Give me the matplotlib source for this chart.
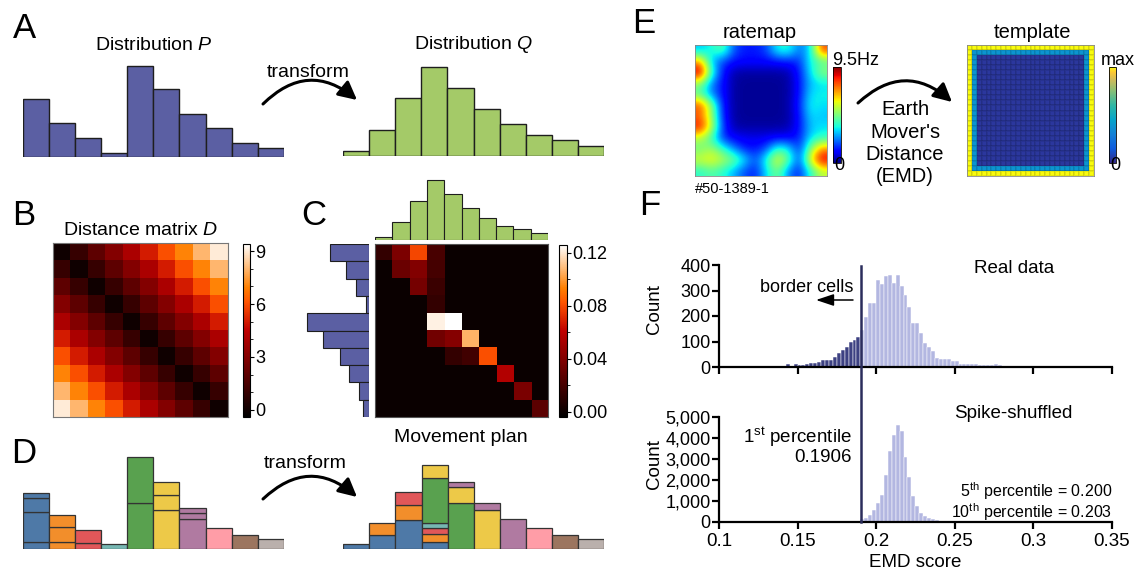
import numpy as np
import matplotlib
matplotlib.use('Agg')
import matplotlib.pyplot as plt
from matplotlib.patches import FancyArrowPatch
from matplotlib.colors import LinearSegmentedColormap
from matplotlib.ticker import FuncFormatter, FixedLocator
import matplotlib.transforms as mtransforms

plt.rcParams['font.family'] = ['Liberation Sans', 'DejaVu Sans']
plt.rcParams['mathtext.fontset'] = 'custom'
plt.rcParams['mathtext.rm'] = 'Liberation Sans'
plt.rcParams['mathtext.it'] = 'Liberation Sans:italic'

# ---------------- data ----------------
bins = np.arange(10)
P = [0.157, 0.092, 0.051, 0.011, 0.247, 0.184, 0.117, 0.079, 0.038, 0.024]
Q = [0.013, 0.070, 0.156, 0.239, 0.183, 0.126, 0.086, 0.056, 0.043, 0.027]

# transport plan: rows = source bin of P, columns = destination bin of Q
plan = [
    [0.0135, 0.0386, 0.0792, 0.0208, 0, 0, 0, 0, 0, 0],
    [0, 0.0324, 0.0405, 0.0197, 0, 0, 0, 0, 0, 0],
    [0, 0, 0.0359, 0.0162, 0, 0, 0, 0, 0, 0],
    [0, 0, 0, 0.0135, 0, 0, 0, 0, 0, 0],
    [0, 0, 0, 0.1224, 0.1262, 0, 0, 0, 0, 0],
    [0, 0, 0, 0.0351, 0.0414, 0.1062, 0, 0, 0, 0],
    [0, 0, 0, 0, 0.0135, 0.0181, 0.0811, 0, 0, 0],
    [0, 0, 0, 0, 0, 0, 0, 0.0568, 0, 0],
    [0, 0, 0, 0, 0, 0, 0, 0, 0.0378, 0],
    [0, 0, 0, 0, 0, 0, 0, 0, 0, 0.0270],
]
dist_ticks = [0, 3, 6, 9]
plan_ticks = [0.00, 0.04, 0.08, 0.12]
bin_colors = ['#4E79A7', '#F28E2B', '#E15759', '#76B7B2', '#59A14F',
              '#EDC948', '#B07AA1', '#FF9DA7', '#9C755F', '#BAB0AC']

# ratemap (Hz), 12 x 12 coarse grid, top row first
ratemap_hz = [
    [3.0, 3.6, 4.5, 2.0, 1.4, 1.4, 1.8, 3.6, 3.8, 2.2, 3.2, 8.0],
    [7.0, 3.0, 1.8, 1.3, 1.2, 1.2, 1.2, 1.3, 1.4, 1.6, 3.6, 4.2],
    [9.3, 4.0, 1.4, 0.4, 0.3, 0.3, 0.3, 0.3, 0.4, 1.4, 3.3, 5.0],
    [5.0, 2.4, 1.3, 0.3, 0.2, 0.2, 0.2, 0.2, 0.3, 1.3, 3.0, 3.3],
    [4.2, 2.4, 1.3, 0.3, 0.2, 0.2, 0.2, 0.2, 0.3, 1.3, 3.3, 3.5],
    [8.0, 5.0, 1.4, 0.3, 0.2, 0.2, 0.2, 0.2, 0.3, 1.5, 3.6, 3.3],
    [7.6, 5.2, 1.5, 0.3, 0.2, 0.2, 0.2, 0.2, 0.3, 1.3, 3.3, 3.0],
    [8.6, 5.7, 1.8, 0.4, 0.3, 0.3, 0.3, 0.3, 0.4, 1.3, 3.0, 3.3],
    [5.5, 4.0, 1.6, 1.1, 1.0, 0.9, 1.0, 1.1, 1.1, 1.4, 3.3, 3.8],
    [4.5, 5.2, 4.0, 2.5, 1.4, 1.3, 1.9, 4.0, 3.4, 1.5, 4.8, 7.2],
    [5.8, 6.2, 5.5, 4.8, 3.4, 1.9, 3.8, 6.2, 4.5, 1.7, 6.2, 9.0],
    [3.8, 4.3, 3.8, 2.9, 1.9, 1.4, 3.3, 4.8, 2.4, 1.4, 3.8, 5.5],
]
ratemap_max = 9.5
template_size = 26
template_profile = [1.0, 0.38, 0.04]   # outer ring, second ring, interior

bin_width = 0.0025
real_start = 0.1425
real_counts = [10, 5, 13, 8, 9, 13, 17, 16, 20, 26, 29, 26, 40, 55, 65, 78, 98, 107, 117,
               146, 195, 250, 250, 341, 325, 355, 361, 331, 361, 318, 283, 237, 172, 172,
               133, 94, 77, 61, 35, 33, 33, 33, 25, 25, 13, 13, 13, 13, 12, 9, 9, 8, 8,
               13, 6, 5, 3, 2]
shuf_start = 0.19
shuf_counts = [130, 200, 330, 560, 900, 1300, 2250, 3350, 4150, 4600, 4300, 3100, 2150,
               1250, 750, 420, 280, 190, 140, 90, 55, 35, 20, 12, 8]
threshold = 0.1906
emd_ticks = [0.1, 0.15, 0.2, 0.25, 0.3, 0.35]
real_yticks = [0, 100, 200, 300, 400]
shuf_yticks = [0, 1000, 2000, 3000, 4000, 5000]

# ---------------- figure helpers ----------------
W, H = 1140, 573
fig = plt.figure(figsize=(W / 100, H / 100), dpi=100)


def add_ax(x0, y0, x1, y1):
    return fig.add_axes([x0 / W, 1 - y1 / H, (x1 - x0) / W, (y1 - y0) / H])


def txt(x, y, s, size, ha='center', va='baseline', **kw):
    return fig.text(x / W, 1 - y / H, s, fontsize=size, ha=ha, va=va, **kw)


def arrow(x0, y0, x1, y1, rad, lw, ms, hl, hw):
    fig.patches.append(FancyArrowPatch(
        (x0 / W, 1 - y0 / H), (x1 / W, 1 - y1 / H), transform=fig.transFigure,
        connectionstyle=f'arc3,rad={rad}',
        arrowstyle=f'-|>,head_length={hl},head_width={hw}',
        mutation_scale=ms, lw=lw, color='black', shrinkA=0, shrinkB=0))


P_COL = '#5B5FA3'
Q_COL = '#A4CA68'
EDGE = '#1e1e1e'

# ---------------- panel A ----------------
for (x0, x1, base, data, col) in [(22.7, 284, 157, P, P_COL), (343, 604, 155.7, Q, Q_COL)]:
    ax = add_ax(x0, base - 100, x1, base)
    ax.bar(bins, data, width=1, color=col, edgecolor=EDGE, linewidth=1.0)
    ax.set_xlim(-0.5, 9.5)
    ax.set_ylim(0, 100 / 370)
    ax.axis('off')
txt(154, 50, 'Distribution $P$', 14)
txt(474, 49, 'Distribution $Q$', 14)
txt(308, 77, 'transform', 14)
arrow(263, 104, 357, 100, -0.45, 2.2, 20, 0.55, 0.28)

# ---------------- panel B ----------------
dist = np.abs(bins[:, None] - bins[None, :])
axB = add_ax(53, 243, 228, 417)
imB = axB.imshow(dist, cmap='gist_heat', vmin=-0.4, vmax=9.4, aspect='auto', interpolation='nearest')
axB.set_xticks([]); axB.set_yticks([])
for s in axB.spines.values():
    s.set_color('#777777'); s.set_linewidth(0.8)
caxB = add_ax(243, 244, 250, 417)
cbB = fig.colorbar(imB, cax=caxB)
cbB.set_ticks(dist_ticks)
cbB.ax.yaxis.set_minor_locator(FixedLocator(list(range(0, 10))))
cbB.ax.tick_params(labelsize=13, length=3, width=0.8, pad=1)
cbB.ax.tick_params(which='minor', length=2, width=0.6)
cbB.outline.set_linewidth(0.8)
txt(141, 235, 'Distance matrix $D$', 14)

# ---------------- panel C ----------------
planA = np.array(plan)
axC = add_ax(375, 244, 548, 417)
imC = axC.imshow(planA, cmap='gist_heat', vmin=-0.004, vmax=0.126, aspect='auto', interpolation='nearest')
axC.set_xticks([]); axC.set_yticks([])
for s in axC.spines.values():
    s.set_color('#555555'); s.set_linewidth(0.8)
caxC = add_ax(559, 245, 567, 417)
cbC = fig.colorbar(imC, cax=caxC)
cbC.set_ticks(plan_ticks)
cbC.set_ticklabels([f'{t:.2f}' for t in plan_ticks])
cbC.ax.yaxis.set_minor_locator(FixedLocator([0.02, 0.06, 0.10]))
cbC.ax.tick_params(labelsize=13, length=3, width=0.8, pad=1)
cbC.ax.tick_params(which='minor', length=2, width=0.6)
cbC.outline.set_linewidth(0.8)

axCl = add_ax(369 - 0.27 * 251, 244, 369, 417)
axCl.barh(bins, P, height=1, color=P_COL, edgecolor=EDGE, linewidth=0.8)
axCl.set_ylim(9.5, -0.5)
axCl.set_xlim(0.27, 0)
axCl.axis('off')
axCt = add_ax(375, 240 - 0.27 * 251, 548, 240)
axCt.bar(bins, Q, width=1, color=Q_COL, edgecolor=EDGE, linewidth=0.8)
axCt.set_xlim(-0.5, 9.5)
axCt.set_ylim(0, 0.27)
axCt.axis('off')

# ---------------- panel D ----------------
axDl = add_ax(22.7, 449.3, 284, 549.3)
for i in range(10):
    bottom = 0.0
    for j in range(9, -1, -1):
        v = planA[i, j]
        if v > 0:
            axDl.bar(i, v, bottom=bottom, width=1, color=bin_colors[i], edgecolor='#333333', linewidth=0.9)
            bottom += v
axDl.set_xlim(-0.5, 9.5); axDl.set_ylim(0, 100 / 370); axDl.axis('off')

axDr = add_ax(343.3, 449.3, 604, 549.3)
for j in range(10):
    bottom = 0.0
    for i in range(10):
        v = planA[i, j]
        if v > 0:
            axDr.bar(j, v, bottom=bottom, width=1, color=bin_colors[i], edgecolor='#333333', linewidth=0.9)
            bottom += v
axDr.set_xlim(-0.5, 9.5); axDr.set_ylim(0, 100 / 370); axDr.axis('off')
txt(461, 442, 'Movement plan', 14)
txt(305, 468, 'transform', 14)
arrow(263, 499, 357, 497, -0.45, 2.2, 20, 0.55, 0.28)

# ---------------- panel E ----------------
axR = add_ax(695, 45, 827, 176)
imR = axR.imshow(np.array(ratemap_hz), cmap='jet', vmin=0, vmax=ratemap_max,
                 interpolation='bicubic', aspect='auto')
axR.set_xticks([]); axR.set_yticks([])
for s in axR.spines.values():
    s.set_color('#888888'); s.set_linewidth(0.6)
caxR = add_ax(832.7, 66.7, 840.7, 163)
cbR = fig.colorbar(imR, cax=caxR)
cbR.set_ticks([])
cbR.outline.set_linewidth(0.6)
txt(760, 38, 'ratemap', 14.5)
txt(832, 65, '9.5Hz', 13, ha='left')
txt(834, 170, '0', 13, ha='left')
txt(695, 193, '#50-1389-1', 10.5, ha='left')

parula = LinearSegmentedColormap.from_list('parula', [
    (0.00, '#352a87'), (0.15, '#0f5cdd'), (0.30, '#1481d6'), (0.45, '#06a4ca'),
    (0.60, '#2eb7a4'), (0.75, '#87bf77'), (0.87, '#d1bb59'), (0.95, '#fec832'),
    (1.00, '#f9fb0e')])
ii = np.arange(template_size)
ring = np.minimum(np.minimum(ii[:, None], ii[None, :]),
                  np.minimum(template_size - 1 - ii[:, None], template_size - 1 - ii[None, :]))
ring = np.minimum(ring, len(template_profile) - 1)
template = np.array(template_profile)[ring]
axT = add_ax(967, 45, 1094, 176)
imT = axT.pcolormesh(template, cmap=parula, vmin=0, vmax=1,
                     edgecolors=(0, 0, 0, 0.08), linewidth=0.3)
axT.set_xlim(0, template_size); axT.set_ylim(template_size, 0)
axT.set_xticks([]); axT.set_yticks([])
for s in axT.spines.values():
    s.set_color('#888888'); s.set_linewidth(0.6)
caxT = add_ax(1109, 67, 1116, 163)
cbT = fig.colorbar(imT, cax=caxT)
cbT.set_ticks([])
cbT.outline.set_linewidth(0.6)
txt(1032, 38, 'template', 14.5)
txt(1101, 65, 'max', 13, ha='left')
txt(1110, 170, '0', 13, ha='left')

txt(905, 115, 'Earth', 14.5)
txt(905, 138, "Mover's", 14.5)
txt(905, 160, 'Distance', 14.5)
txt(905, 182, '(EMD)', 14.5)
arrow(858, 103, 952, 102, -0.45, 2.2, 20, 0.55, 0.28)

# ---------------- panel F ----------------
DARK = '#3D4182'
LIGHT = '#B3B7E1'
LINE = '#2B2D5C'


def style_axis(ax, ymax, yticks, fmt, show_xlabels):
    ax.set_xlim(emd_ticks[0], emd_ticks[-1])
    ax.set_ylim(0, ymax)
    for s in ['top', 'right']:
        ax.spines[s].set_visible(False)
    for s in ['left', 'bottom']:
        ax.spines[s].set_linewidth(1.6)
    ax.set_xticks(emd_ticks)
    ax.set_yticks(yticks)
    ax.yaxis.set_major_formatter(FuncFormatter(fmt))
    ax.xaxis.set_major_formatter(FuncFormatter(lambda v, p: f'{v:g}'))
    ax.tick_params(axis='both', width=1.6, length=5, direction='out')
    ax.tick_params(axis='y', labelsize=13, pad=1)
    ax.tick_params(axis='x', labelsize=13.5, pad=3, labelbottom=show_xlabels)


axFt = add_ax(719, 265, 1111.7, 367)
real_edges = real_start + bin_width * np.arange(len(real_counts))
real_cols = [DARK if e < 0.19 else LIGHT for e in real_edges]
axFt.bar(real_edges, real_counts, width=bin_width, align='edge', color=real_cols,
         edgecolor='white', linewidth=0.35)
style_axis(axFt, 400, real_yticks, lambda v, p: f'{int(v)}', False)

axFb = add_ax(719, 416.7, 1111.7, 522)
shuf_edges = shuf_start + bin_width * np.arange(len(shuf_counts))
axFb.bar(shuf_edges, shuf_counts, width=bin_width, align='edge', color=LIGHT,
         edgecolor='white', linewidth=0.35)
style_axis(axFb, 5000, shuf_yticks, lambda v, p: f'{int(v):,}', True)

trans = mtransforms.blended_transform_factory(axFb.transData, axFb.transAxes)
axFb.plot([threshold, threshold], [0, (522 - 266) / (522 - 416.7)], transform=trans,
          color=LINE, lw=1.8, clip_on=False, zorder=5)

txt(655, 309, 'Count', 13.5, va='center', rotation=90)
txt(655, 464, 'Count', 13.5, va='center', rotation=90)
txt(915, 567, 'EMD score', 13.5)
txt(1014, 273, 'Real data', 13.5)
txt(853, 292, 'border cells', 13, ha='right')
arrow(853, 300, 816, 300, 0, 1.1, 12, 0.9, 0.3)
txt(1013, 418, 'Spike-shuffled', 13.5)
txt(852, 462, '1$^{\\rm st}$ percentile\n0.1906', 13.5, ha='right',
    multialignment='right', linespacing=1.0)
txt(1112, 518, '5$^{\\rm th}$ percentile = 0.200\n10$^{\\rm th}$ percentile = 0.203', 11.5,
    ha='right', multialignment='right', linespacing=0.95)

# ---------------- panel letters ----------------
for (x, y, s) in [(24.5, 38, 'A'), (23.5, 225, 'B'), (314, 225, 'C'), (24, 463, 'D'),
                  (644, 33, 'E'), (650, 215, 'F')]:
    txt(x, y, s, 25)

fig.savefig('out.png', dpi=100)
